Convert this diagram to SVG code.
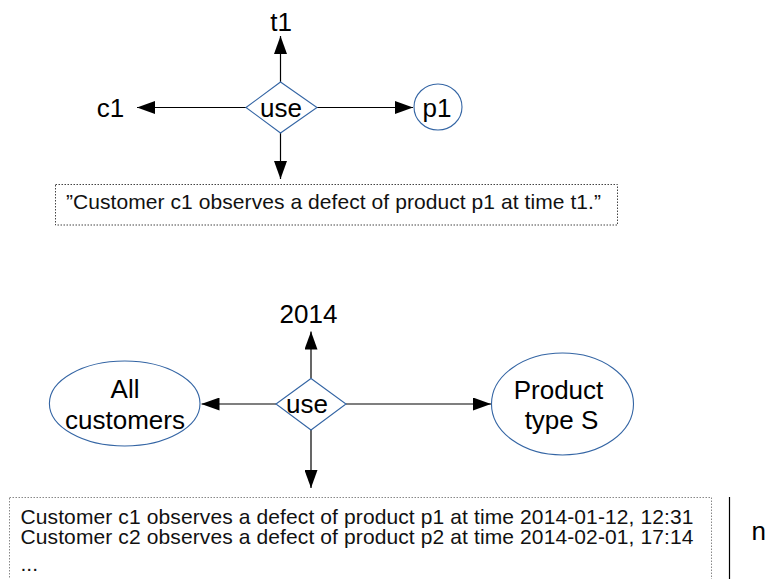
<svg xmlns="http://www.w3.org/2000/svg" width="767" height="579" viewBox="0 0 767 579">
  <style>
    .lbl { font-family: "Liberation Sans", Arial, sans-serif; font-size: 26px; fill: #000; }
    .small { font-family: "Liberation Sans", Arial, sans-serif; font-size: 21px; fill: #111; }
    .shape { fill: #fff; stroke: #3465a4; stroke-width: 1.1; }
    .conn { stroke: #000; stroke-width: 1.2; fill: none; marker-end: url(#head); }
    .dotted { fill: none; stroke-width: 1; stroke-dasharray: 1.5 1.5; }
  </style>
  <defs>
    <marker id="head" markerUnits="userSpaceOnUse" markerWidth="18" markerHeight="13" refX="18" refY="6.5" orient="auto">
      <path d="M0,0 L18,6.5 L0,13 Z" fill="#000"/>
    </marker>
  </defs>
  <rect width="767" height="579" fill="#fff"/>

  <!-- connectors -->
  <g id="connectors">
    <line class="conn" x1="280.5" y1="82" x2="280.5" y2="36"/>
    <line class="conn" x1="246" y1="107.5" x2="137" y2="107.5"/>
    <line class="conn" x1="317" y1="107.5" x2="413" y2="107.5"/>
    <line class="conn" x1="280.5" y1="133" x2="280.5" y2="179"/>

    <line class="conn" x1="311" y1="378.5" x2="311" y2="331.5"/>
    <line class="conn" x1="276" y1="404" x2="201.5" y2="404"/>
    <line class="conn" x1="346" y1="404" x2="491" y2="404"/>
    <line class="conn" x1="311" y1="430" x2="311" y2="488"/>
  </g>

  <!-- single observation -->
  <g id="t1">
    <text class="lbl" x="281" y="31" text-anchor="middle">t1</text>
  </g>
  <g id="c1">
    <text class="lbl" x="110.5" y="116.5" text-anchor="middle">c1</text>
  </g>
  <g id="use1">
    <polygon class="shape" points="246,107.5 280.5,82 317,107.5 280.5,133"/>
    <text class="lbl" x="281" y="116.5" text-anchor="middle">use</text>
  </g>
  <g id="p1">
    <ellipse class="shape" cx="438" cy="107" rx="24" ry="23"/>
    <text class="lbl" x="437" y="116.5" text-anchor="middle">p1</text>
  </g>
  <g id="sentence1">
    <rect class="dotted" x="55.5" y="184.5" width="562" height="40.5" stroke="#444"/>
    <text class="small" x="66" y="208.5" textLength="535">”Customer c1 observes a defect of product p1 at time t1.”</text>
  </g>

  <!-- aggregated observations -->
  <g id="year">
    <text class="lbl" x="308.5" y="322.5" text-anchor="middle">2014</text>
  </g>
  <g id="customers">
    <ellipse class="shape" cx="124.7" cy="403.5" rx="75.3" ry="42.5"/>
    <text class="lbl" x="125" y="397.5" text-anchor="middle">All</text>
    <text class="lbl" x="125" y="428.5" text-anchor="middle">customers</text>
  </g>
  <g id="use2">
    <polygon class="shape" points="276,404 311,378.5 346,404 311,430"/>
    <text class="lbl" x="307" y="413" text-anchor="middle">use</text>
  </g>
  <g id="productS">
    <ellipse class="shape" cx="562.5" cy="404" rx="71" ry="51"/>
    <text class="lbl" x="558.5" y="399" text-anchor="middle">Product</text>
    <text class="lbl" x="561.5" y="428.5" text-anchor="middle">type S</text>
  </g>
  <g id="records">
    <rect class="dotted" x="9.5" y="497.5" width="702" height="100" stroke="#888"/>
    <text class="small" x="20.5" y="523.5" textLength="673">Customer c1 observes a defect of product p1 at time 2014-01-12, 12:31</text>
    <text class="small" x="20.5" y="544" textLength="673">Customer c2 observes a defect of product p2 at time 2014-02-01, 17:14</text>
    <text class="small" x="20.5" y="570.5">...</text>
  </g>
  <g id="count">
    <line x1="729.5" y1="497" x2="729.5" y2="579" stroke="#000" stroke-width="1.2"/>
    <text class="lbl" x="751.5" y="540">n</text>
  </g>
</svg>
